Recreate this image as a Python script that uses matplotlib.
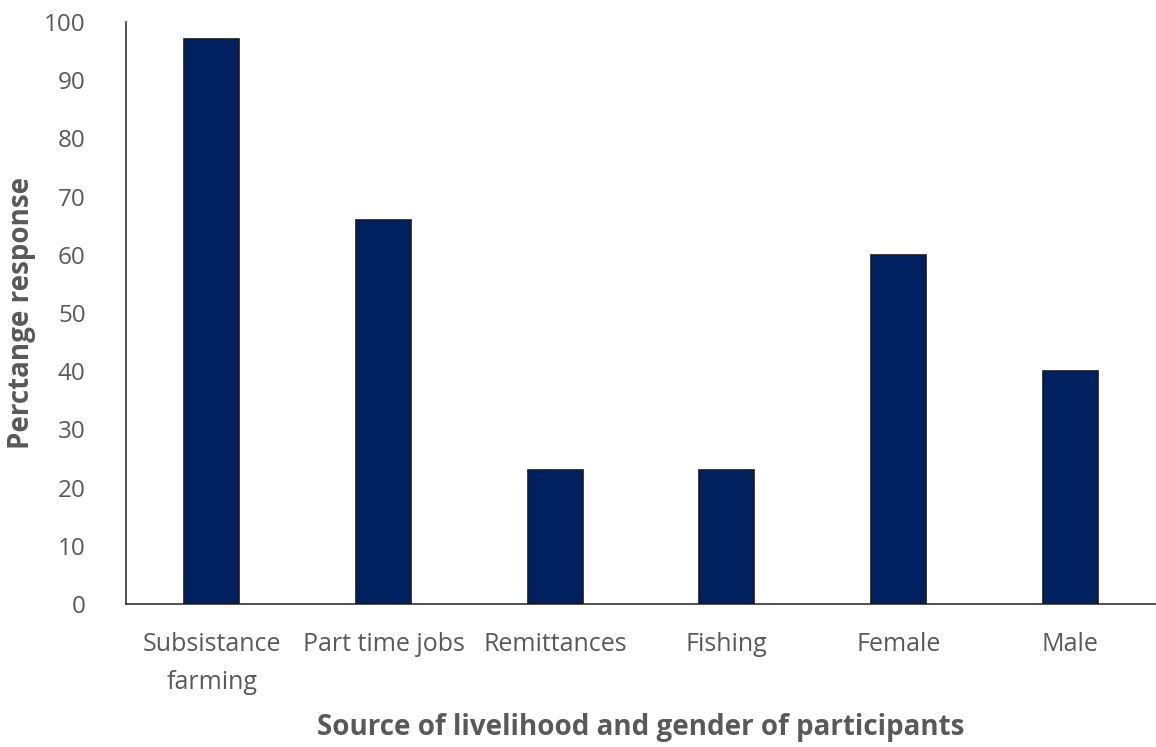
import matplotlib
matplotlib.use("Agg")
import matplotlib.pyplot as plt

categories = ["Subsistance\nfarming", "Part time jobs", "Remittances", "Fishing", "Female", "Male"]
values = [97, 66, 23, 23, 60, 40]
yticks = [0, 10, 20, 30, 40, 50, 60, 70, 80, 90, 100]

plt.rcParams['font.family'] = ['Open Sans', 'DejaVu Sans']

fig = plt.figure(figsize=(11.56, 7.47), dpi=100)
ax = fig.add_axes([126/1156, 1-604/747, 1-126/1156, (604-22)/747])

x = list(range(len(categories)))
ax.bar(x, values, width=0.32, color="#002060", edgecolor="#1a1a1a", linewidth=1.2, zorder=3)

ax.set_xlim(-0.5, 5.5)
ax.set_ylim(0, 100)
ax.set_yticks(yticks)
ax.set_xticks(x)
ax.set_xticklabels(categories, fontsize=18, color="#595959", linespacing=1.7)
ax.tick_params(axis='y', length=0, labelsize=17.5, labelcolor="#595959", pad=29)
ax.tick_params(axis='x', length=0, pad=20)

for s in ["top", "right"]:
    ax.spines[s].set_visible(False)
ax.spines["left"].set_color("#333333")
ax.spines["bottom"].set_color("#333333")
ax.spines["left"].set_linewidth(1.2)
ax.spines["bottom"].set_linewidth(1.2)

ax.set_xlabel("Source of livelihood and gender of participants", fontsize=20, fontweight="bold",
              color="#595959")
ax.xaxis.set_label_coords(0.5, (604-727)/582, transform=ax.transAxes)
ax.xaxis.label.set_verticalalignment("center")
ax.set_ylabel("Perctange response", fontsize=20, fontweight="bold", color="#595959")
ax.yaxis.set_label_coords((22-126)/1030, 0.5, transform=ax.transAxes)
ax.yaxis.label.set_verticalalignment("center")

fig.savefig("out.png", dpi=100)
